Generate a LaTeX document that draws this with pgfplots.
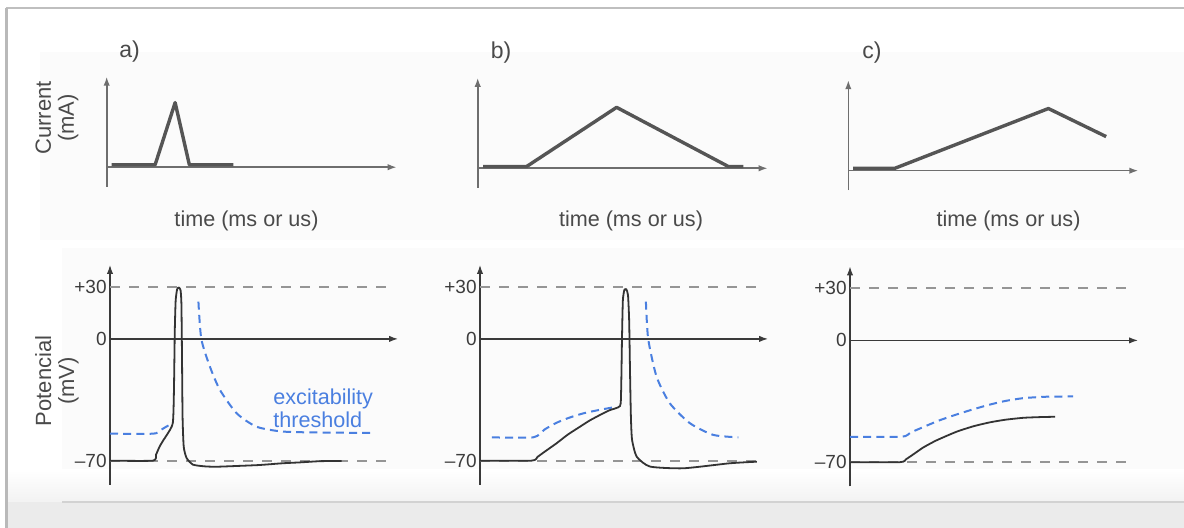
\documentclass[border=0pt]{standalone}
\usepackage{fontspec}
\setmainfont{Liberation Sans}
\usepackage{pgfplots}
\pgfplotsset{compat=1.18}
\usetikzlibrary{arrows.meta}
\definecolor{axiscol}{HTML}{3A3A3A}
\definecolor{topaxis}{HTML}{6E6E6E}
\definecolor{curvetop}{HTML}{555555}
\definecolor{curvebot}{HTML}{333333}
\definecolor{dashgray}{HTML}{959595}
\definecolor{thblue}{HTML}{4A7FE0}
\definecolor{txt}{HTML}{4A4A4A}
\definecolor{ticktxt}{HTML}{3C3C3C}
\pgfplotsset{
  panel/.style={scale only axis, axis lines=middle, xmin=0, xmax=100, xtick=\empty, clip=false,
    major tick length=0pt, hide obscured x ticks=false, hide obscured y ticks=false},
  toppanel/.style={panel, width=145pt, height=55pt, ymin=-3.2, ymax=14.85, ytick=\empty,
    axis line style={draw=topaxis, line width=0.8pt, -{Latex[length=4.5pt,width=3.2pt]}}},
  botpanel/.style={panel, width=144pt, height=110pt, ymin=-84, ymax=42.5,
    ytick={-70,0,30}, yticklabels={–70,0,+30},
    yticklabel style={font=\fontsize{9.5}{10}\selectfont, text=ticktxt, inner sep=1.5pt},
    axis line style={draw=axiscol, line width=0.6pt, -{Latex[length=4.5pt,width=3.2pt]}}},
  cur/.style={draw=curvetop, line width=1.7pt, line join=round},
  pot/.style={draw=curvebot, line width=0.9pt, smooth, tension=0.35},
  thr/.style={draw=thblue, line width=1pt, dash pattern=on 4pt off 2.6pt, smooth, tension=0.4},
  ref/.style={draw=dashgray, line width=0.9pt, dash pattern=on 5pt off 4.5pt},
}
\begin{document}
\begin{tikzpicture}
\begin{scope}[x=0.5pt,y=-0.5pt]
  \useasboundingbox (0,0) rectangle (1184,528);
  \fill[white] (0,0) rectangle (1184,528);
  \fill[gray!3] (40,52) rectangle (1184,240);
  \fill[gray!3] (62,248) rectangle (1184,480);
  \shade[top color=white, bottom color=gray!10] (6,470) rectangle (1184,502);
  \fill[gray!16] (6,502) rectangle (1184,528);
  \draw[gray!35, line width=0.7pt] (62,502) -- (1184,502);
  \draw[gray!50, line width=1.2pt] (6,8) -- (1184,8);
  \draw[gray!55, line width=1.5pt] (6,8) -- (6,528);
\end{scope}

% ---------- top row: current ----------
\begin{axis}[toppanel, at={({0.5pt*106.7},{-0.5pt*186.7})}, anchor=south west]
  \addplot[cur] coordinates {(1.7,0.4) (16.7,0.4) (23.6,10.6) (28.5,0.4) (43.7,0.4)};
\end{axis}
\begin{axis}[toppanel, at={({0.5pt*477.7},{-0.5pt*187.8})}, anchor=south west]
  \addplot[cur] coordinates {(1.9,0.3) (16.9,0.3) (47.9,10) (86.4,0.3) (91.6,0.3)};
\end{axis}
\begin{axis}[toppanel, at={({0.5pt*848.3},{-0.5pt*190.2})}, anchor=south west]
  \addplot[cur] coordinates {(1.7,0.4) (16.1,0.4) (69,10.2) (88.9,5.6)};
\end{axis}

% ---------- bottom row: potential ----------
\begin{axis}[botpanel, at={({0.5pt*110},{-0.5pt*485})}, anchor=south west]
  \addplot[ref] coordinates {(0,30) (96.5,30)};
  \addplot[ref] coordinates {(0,-70) (96.5,-70)};
  \addplot[thr] coordinates {(0,-54.5) (14.9,-54.5) (17,-53) (19.5,-50.5) (21.8,-48.5)};
  \addplot[thr] coordinates {(30.7,21.4) (31.7,0) (34.7,-16) (38.2,-29.4) (44,-42.8) (50.9,-50.5) (60.2,-53.3) (76.4,-53.9) (90.3,-54)};
  \addplot[pot] coordinates {(0,-70) (14.9,-70) (16,-66.5) (17.2,-62) (18.5,-58.3) (19.7,-55.3) (21.8,-48.5) (22.2,-30) (22.5,5) (22.8,22) (23.3,28.5) (23.9,29.5) (24.5,28) (24.8,20) (25.0,-10) (25.2,-45) (25.6,-62) (26.6,-68.5) (28.8,-72.3) (33,-73.3) (37,-73.5) (45,-73) (52,-72.5) (60,-71.5) (66,-71) (73,-70.3) (80.4,-70.2)};
\end{axis}
\begin{axis}[botpanel, at={({0.5pt*480},{-0.5pt*485})}, anchor=south west]
  \addplot[ref] coordinates {(0,30) (97.2,30)};
  \addplot[ref] coordinates {(0,-70) (97.2,-70)};
  \addplot[thr] coordinates {(4.1,-56.6) (18.5,-56.6) (22.5,-52) (26.6,-48.2) (31,-45.3) (35.9,-42.8) (41.5,-40.8) (47.5,-39)};
  \addplot[thr] coordinates {(57.6,21.4) (58.4,0) (61.3,-21.7) (65.9,-37) (72.9,-48.5) (81,-55.2) (89.7,-56.6)};
  \addplot[pot] coordinates {(0,-70) (17.9,-70) (20,-67.8) (22.5,-64.8) (26.6,-60) (30.5,-55) (34.7,-50.5) (38,-47) (41.7,-43.7) (45,-41) (48.6,-38.6) (49.0,-30) (49.3,0) (49.6,22) (50.1,28) (50.8,28.5) (51.4,25) (51.8,10) (52.1,-20) (52.4,-45) (52.8,-58) (54.4,-67.7) (59,-73.4) (70.6,-74.4) (86.8,-71.5) (96.1,-70.6)};
\end{axis}
\begin{axis}[botpanel, at={({0.5pt*850},{-0.5pt*486.5})}, anchor=south west]
  \addplot[ref] coordinates {(0,30) (97.2,30)};
  \addplot[ref] coordinates {(0,-70) (97.2,-70)};
  \addplot[thr] coordinates {(0,-55.4) (17.9,-55.4) (21,-53) (25.5,-49.8) (31,-46) (37,-42.6) (43,-39.5) (48.6,-36.9) (54,-34.8) (60.2,-33.2) (68,-32.4) (77.5,-32.2)};
  \addplot[pot] coordinates {(0,-70) (17.4,-70) (19.5,-68.3) (22,-65.5) (25.5,-61.5) (30,-57.5) (37,-52.5) (43,-49.3) (48.6,-47.1) (54,-45.6) (60.2,-44.5) (66,-44.1) (71.2,-43.9)};
\end{axis}

\begin{scope}[x=0.5pt,y=-0.5pt]
  \node[font=\fontsize{11.5}{12}\selectfont, text=txt] at (129.5,52) {a)};
  \node[font=\fontsize{11.5}{12}\selectfont, text=txt] at (501,53) {b)};
  \node[font=\fontsize{11.5}{12}\selectfont, text=txt] at (872,53) {c)};
  \node[font=\fontsize{10.8}{12}\selectfont, text=txt] at (246.5,221) {time (ms or us)};
  \node[font=\fontsize{10.8}{12}\selectfont, text=txt] at (631,221) {time (ms or us)};
  \node[font=\fontsize{10.8}{12}\selectfont, text=txt] at (1008.5,221) {time (ms or us)};
  \node[font=\fontsize{11}{11.5}\selectfont, text=txt, rotate=90, align=center] at (57,118) {Current\\(mA)};
  \node[font=\fontsize{11}{11.5}\selectfont, text=txt, rotate=90, align=center] at (57,381) {Potencial\\(mV)};
  \node[font=\fontsize{10.8}{11.5}\selectfont, text=thblue, align=left, anchor=west, inner sep=0pt] at (273,408) {excitability\\threshold};
\end{scope}
\end{tikzpicture}
\end{document}
